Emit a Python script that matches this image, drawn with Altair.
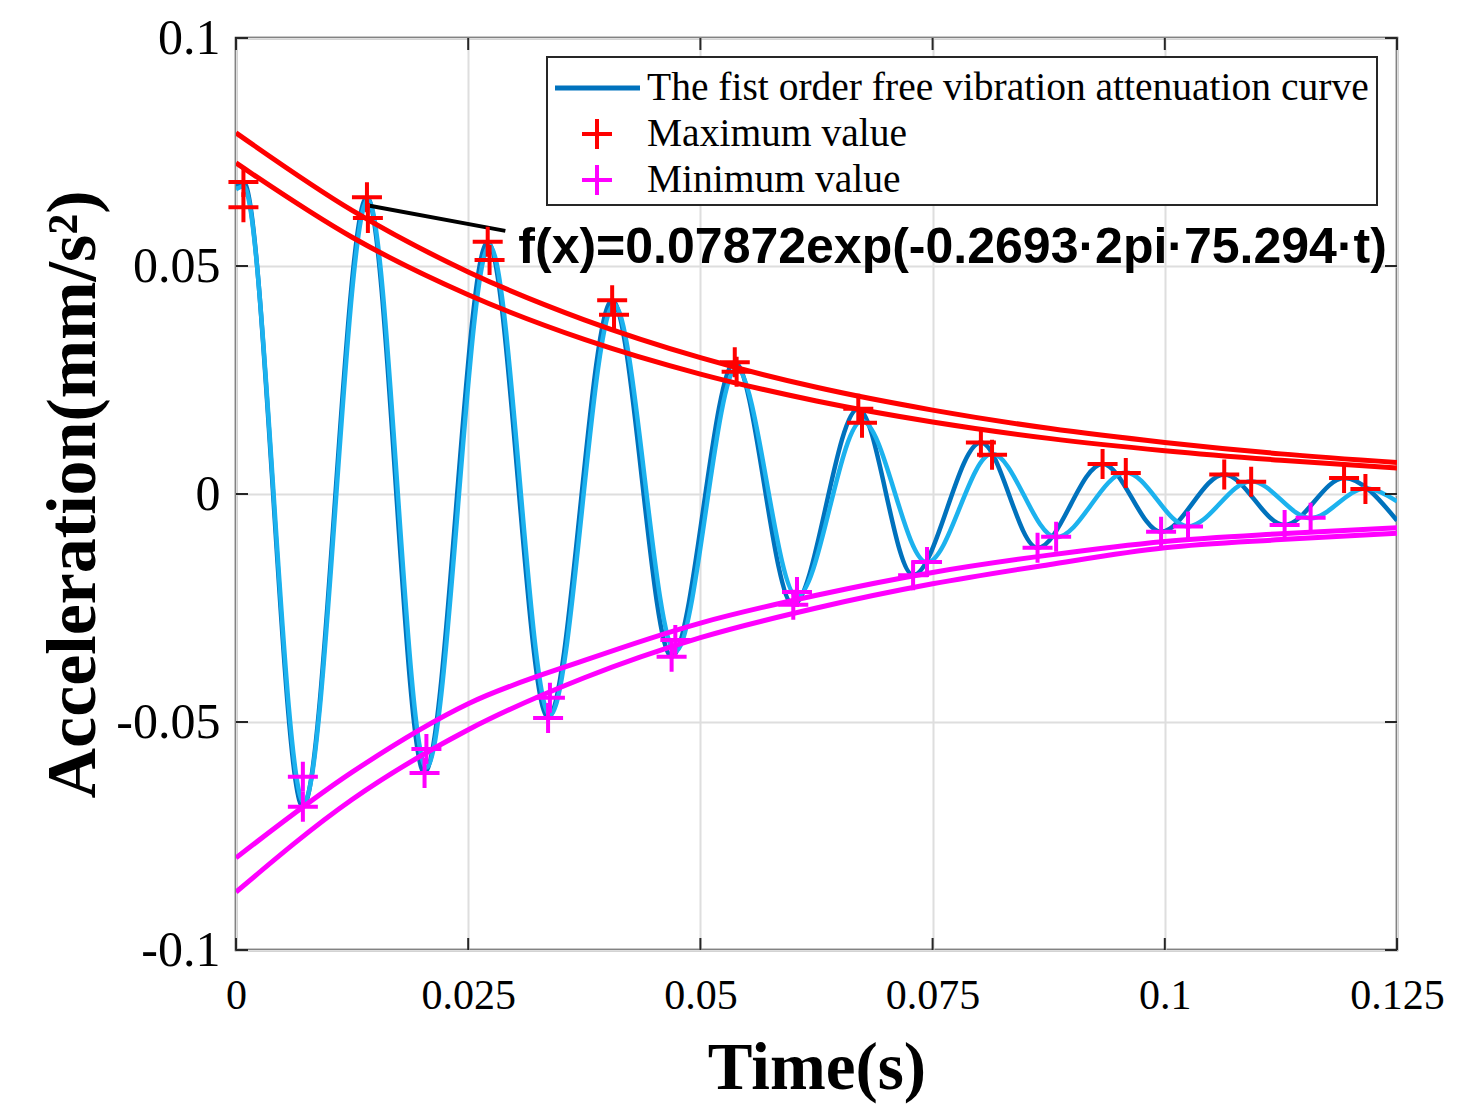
import altair as alt
import pandas as pd

dark_t = [0, 0.0008, 0.0072, 0.0141, 0.0203, 0.0271, 0.0336, 0.0405, 0.0469, 0.0537, 0.0600,
          0.0670, 0.0729, 0.0802, 0.0863, 0.0933, 0.0996, 0.1064, 0.1129, 0.1193, 0.125]
dark_a = [0.0675, 0.0684, -0.0686, 0.0651, -0.0612, 0.0553, -0.0491, 0.0425, -0.0357, 0.0289, -0.0243,
          0.0187, -0.0178, 0.0113, -0.0118, 0.0066, -0.0083, 0.0043, -0.0068, 0.0035, -0.0058]
light_t = [0, 0.0008, 0.0073, 0.0142, 0.0205, 0.0273, 0.0338, 0.0407, 0.0473, 0.0539, 0.0604,
           0.0674, 0.0744, 0.0814, 0.0883, 0.0958, 0.1025, 0.1093, 0.1157, 0.1216, 0.125]
light_a = [0.0668, 0.0675, -0.0676, 0.0645, -0.0600, 0.0545, -0.0485, 0.0415, -0.0345, 0.0275, -0.0225,
           0.0160, -0.0150, 0.0088, -0.0095, 0.0047, -0.0071, 0.0028, -0.0053, 0.0012, -0.0016]

# envelope curves
env_t = [0, 0.0125, 0.025, 0.0375, 0.05, 0.0625, 0.075, 0.0875, 0.1, 0.1125, 0.125]
max_fit_1 = [0.0792, 0.0622, 0.0487, 0.0382, 0.0299, 0.0234, 0.0184, 0.0144, 0.0113, 0.0088, 0.0069]
max_fit_2 = [0.0726, 0.0563, 0.0437, 0.0339, 0.0263, 0.0204, 0.0158, 0.0122, 0.0095, 0.0074, 0.0057]
min_fit_1 = [-0.0798, -0.0610, -0.0460, -0.0365, -0.0283, -0.0222, -0.0172, -0.0134, -0.0104, -0.0087, -0.0074]
min_fit_2 = [-0.0873, -0.0670, -0.0517, -0.0403, -0.0315, -0.0250, -0.0197, -0.0155, -0.0118, -0.0100, -0.0086]

# marked maxima / minima
max_t_1 = [0.0008, 0.0141, 0.0271, 0.0405, 0.0537, 0.0670, 0.0802, 0.0933, 0.1064, 0.1193]
max_a_1 = [0.0684, 0.0651, 0.0553, 0.0425, 0.0289, 0.0187, 0.0113, 0.0066, 0.0043, 0.0035]
max_t_2 = [0.0008, 0.0142, 0.0273, 0.0407, 0.0539, 0.0674, 0.0814, 0.0958, 0.1093, 0.1216]
max_a_2 = [0.0629, 0.0605, 0.0513, 0.0393, 0.0268, 0.0156, 0.0086, 0.0046, 0.0027, 0.0011]
min_t_1 = [0.0072, 0.0203, 0.0336, 0.0469, 0.0600, 0.0729, 0.0863, 0.0996, 0.1129]
min_a_1 = [-0.0686, -0.0612, -0.0491, -0.0357, -0.0243, -0.0178, -0.0118, -0.0083, -0.0068]
min_t_2 = [0.0072, 0.0205, 0.0338, 0.0473, 0.0604, 0.0744, 0.0883, 0.1025, 0.1157]
min_a_2 = [-0.0620, -0.0559, -0.0447, -0.0320, -0.0215, -0.0149, -0.0094, -0.0071, -0.0052]

x_ticks = [0, 0.025, 0.05, 0.075, 0.1, 0.125]
y_ticks = [-0.1, -0.05, 0, 0.05, 0.1]

# annotation: leader line end points and label anchor
note_t = [0.0144, 0.0290]
note_a = [0.0632, 0.0577]
note_text = "f(x)=0.07872exp(-0.2693\u00b72pi\u00b775.294\u00b7t)"
note_pos = (0.0304, 0.0507)

legend_labels = [
    "The fist order free vibration attenuation curve",
    "Maximum value",
    "Minimum value",
]

DARK = "#0072BD"
LIGHT = "#1CB2EE"
PLUS = "M-1,0L1,0M0,-1L0,1"
W, H = 1161, 912

xs = alt.Scale(domain=[0, 0.125], nice=False, zero=False)
ys = alt.Scale(domain=[-0.1, 0.1], nice=False, zero=False)

X = alt.X(
    "t:Q",
    scale=xs,
    title="Time(s)",
    axis=alt.Axis(
        values=x_ticks, labelExpr="'' + datum.value", grid=True, ticks=False, tickSize=0, domain=False,
        labelFlush=False, labelFont="Liberation Serif", labelFontSize=42, labelColor="black",
        labelPadding=25,
        titleFont="Liberation Serif", titleFontSize=67, titleFontWeight="bold", titleColor="black",
        titleBaseline="alphabetic", titleY=138,
        gridColor="#DEDEDE", gridWidth=2,
    ),
)
Y = alt.Y(
    "a:Q",
    scale=ys,
    title="Acceleration(mm/s\u00b2)",
    axis=alt.Axis(
        values=y_ticks, labelExpr="'' + datum.value", grid=True, ticks=False, tickSize=0, domain=False,
        labelFlush=False, labelFont="Liberation Serif", labelFontSize=50, labelColor="black",
        labelPadding=16,
        titleFont="Liberation Serif", titleFontSize=70, titleFontWeight="bold", titleColor="black",
        titleAngle=270, titleBaseline="alphabetic", titleAlign="center", titleX=-142, titleY=H / 2,
        gridColor="#DEDEDE", gridWidth=2,
    ),
)


def frame(t, a):
    return pd.DataFrame({"t": t, "a": a})


def curve(t, a, color, width):
    return alt.Chart(frame(t, a)).mark_line(
        color=color, strokeWidth=width, interpolate="monotone", clip=True
    ).encode(X, Y)


def plus(t, a, color):
    return alt.Chart(frame(t, a)).mark_point(
        shape=PLUS, size=900, filled=False, color=color, strokeWidth=4, opacity=1
    ).encode(X, Y)


dark = curve(dark_t, dark_a, DARK, 4.5)
light = curve(light_t, light_a, LIGHT, 4.5)
envelopes = [
    curve(env_t, max_fit_1, "#FF0000", 5),
    curve(env_t, max_fit_2, "#FF0000", 5),
    curve(env_t, min_fit_1, "#FF00FF", 5),
    curve(env_t, min_fit_2, "#FF00FF", 5),
]
markers = [
    plus(max_t_1, max_a_1, "#FF0000"),
    plus(max_t_2, max_a_2, "#FF0000"),
    plus(min_t_1, min_a_1, "#FF00FF"),
    plus(min_t_2, min_a_2, "#FF00FF"),
]

leader = alt.Chart(frame(note_t, note_a)).mark_line(color="black", strokeWidth=4).encode(X, Y)
note = alt.Chart(frame([note_pos[0]], [note_pos[1]])).mark_text(
    text=note_text, align="left", baseline="alphabetic",
    font="Liberation Sans", fontWeight="bold", fontSize=50, color="black",
).encode(X, Y)

# inward tick marks on all four sides (MATLAB box style)
xt = pd.DataFrame({"t": x_ticks})
yt = pd.DataFrame({"a": y_ticks})
tick_style = dict(color="#262626", strokeWidth=2)
ticks = [
    alt.Chart(xt).mark_rule(**tick_style).encode(X, y=alt.value(H), y2=alt.value(H - 12)),
    alt.Chart(xt).mark_rule(**tick_style).encode(X, y=alt.value(0), y2=alt.value(12)),
    alt.Chart(yt).mark_rule(**tick_style).encode(Y, x=alt.value(0), x2=alt.value(12)),
    alt.Chart(yt).mark_rule(**tick_style).encode(Y, x=alt.value(W), x2=alt.value(W - 12)),
]

# legend box drawn by hand in the upper right corner
one = pd.DataFrame({"k": [0]})
lg_box = alt.Chart(one).mark_rect(fill="white", stroke="#262626", strokeWidth=2).encode(
    x=alt.value(311), x2=alt.value(1141), y=alt.value(19), y2=alt.value(167)
)
lg_line = alt.Chart(one).mark_rule(color=DARK, strokeWidth=5).encode(
    x=alt.value(319), x2=alt.value(404), y=alt.value(50)
)
lg_max = alt.Chart(one).mark_point(
    shape=PLUS, size=900, filled=False, color="#FF0000", strokeWidth=4, opacity=1
).encode(x=alt.value(361), y=alt.value(96))
lg_min = alt.Chart(one).mark_point(
    shape=PLUS, size=900, filled=False, color="#FF00FF", strokeWidth=4, opacity=1
).encode(x=alt.value(361), y=alt.value(142))
lg_text = [
    alt.Chart(one).mark_text(
        text=label, align="left", baseline="middle",
        font="Liberation Serif", fontSize=39.5, color="black",
    ).encode(x=alt.value(411), y=alt.value(yy))
    for label, yy in zip(legend_labels, [50, 96, 142])
]

chart = alt.layer(
    dark, light, *envelopes, leader, *markers, *ticks,
    lg_box, lg_line, lg_max, lg_min, *lg_text, note,
).properties(
    width=W,
    height=H,
    autosize=alt.AutoSizeParams(type="none"),
    padding={"left": 228, "top": 30, "right": 55, "bottom": 158},
    background="white",
).configure_view(
    stroke="#262626", strokeWidth=2.5,
)

chart.save("out.html", embed_options={"renderer": "svg", "actions": False})
